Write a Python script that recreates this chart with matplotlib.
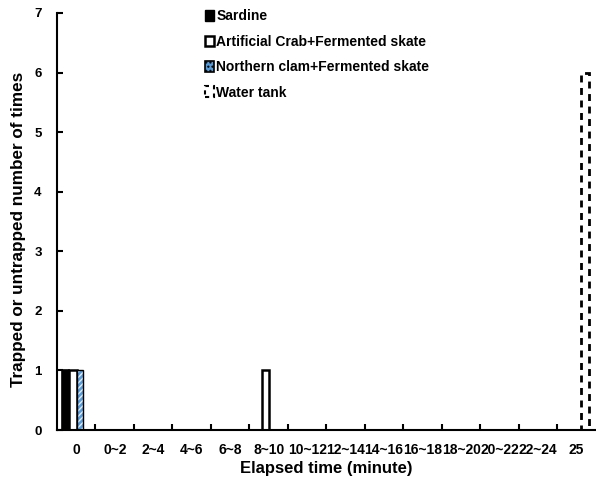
import numpy as np
import matplotlib
matplotlib.use("Agg")
import matplotlib.pyplot as plt
from matplotlib.patches import Patch

plt.rcParams['font.family'] = ['Liberation Sans', 'DejaVu Sans']
plt.rcParams['font.weight'] = 'bold'

# categories and series values
categories = ['0', '0~2', '2~4', '4~6', '6~8', '8~10', '10~12', '12~14',
              '14~16', '16~18', '18~20', '20~22', '22~24', '25']
sardine    = [1, 0, 0, 0, 0, 0, 0, 0, 0, 0, 0, 0, 0, 0]
artificial = [1, 0, 0, 0, 0, 1, 0, 0, 0, 0, 0, 0, 0, 0]
northern   = [1, 0, 0, 0, 0, 0, 0, 0, 0, 0, 0, 0, 0, 0]
water_tank = [0, 0, 0, 0, 0, 0, 0, 0, 0, 0, 0, 0, 0, 6]
yticks = [0, 1, 2, 3, 4, 5, 6, 7]
labels = ['Sardine', 'Artificial Crab+Fermented skate',
          'Northern clam+Fermented skate', 'Water tank']

x = np.arange(len(categories))

fig = plt.figure(figsize=(5.96, 4.8), dpi=100)
ax = fig.add_axes([0.0956, 0.104, 0.904, 0.869])

ax.bar(x - 0.28, sardine, width=0.2, color='black', edgecolor='black', lw=1.2)
ax.bar(x - 0.08, artificial, width=0.2, color='white', edgecolor='black', lw=1.8)
# blue bars with white hatch, then black outline
ax.bar(x + 0.095, northern, width=0.15, color='#5b9bd5', edgecolor='#ddeeff',
       hatch='//////', lw=0)
ax.bar(x + 0.095, northern, width=0.15, fill=False, edgecolor='black', lw=1.0)
ax.bar(x + 0.215, water_tank, width=0.21, color='white', edgecolor='black',
       lw=2, linestyle=(0, (2.5, 2)))

# legend proxies
handles = [
    Patch(facecolor='black', edgecolor='black'),
    Patch(facecolor='white', edgecolor='black', lw=1.8),
    Patch(facecolor='#5b9bd5', edgecolor='black', hatch='....', lw=1.2),
    Patch(facecolor='white', edgecolor='black', lw=1.5, linestyle=(0, (2, 2))),
]
fig.legend(handles, labels, loc='upper left', bbox_to_anchor=(0.334, 0.992),
           frameon=False, fontsize=10, handlelength=0.65, handleheight=0.8,
           handletextpad=0.2, labelspacing=0.82, borderaxespad=0)

ax.set_xlim(-0.5, 13.5)
ax.set_ylim(0, 7)
ax.set_yticks(yticks)
ax.set_xticks(x)
ax.set_xticklabels(categories, fontsize=10, fontweight='bold')
ax.set_xticks(np.arange(0.5, 13.5, 1), minor=True)
ax.tick_params(axis='x', which='major', length=0, pad=9)
ax.tick_params(axis='x', which='minor', direction='in', length=4, width=1.5)
ax.tick_params(axis='y', direction='in', length=4, width=1.5, labelsize=9.5,
               pad=11)
for lab in ax.get_yticklabels():
    lab.set_fontweight('bold')

ax.spines['top'].set_visible(False)
ax.spines['right'].set_visible(False)
ax.spines['left'].set_linewidth(1.5)
ax.spines['bottom'].set_linewidth(1.5)

ax.set_xlabel('Elapsed time (minute)', fontsize=12, fontweight='bold', labelpad=3)
ax.set_ylabel('Trapped or untrapped number of times', fontsize=12.3,
              fontweight='bold')
ax.yaxis.set_label_coords(-0.058, 0.482)

fig.savefig('out.png', dpi=100)
